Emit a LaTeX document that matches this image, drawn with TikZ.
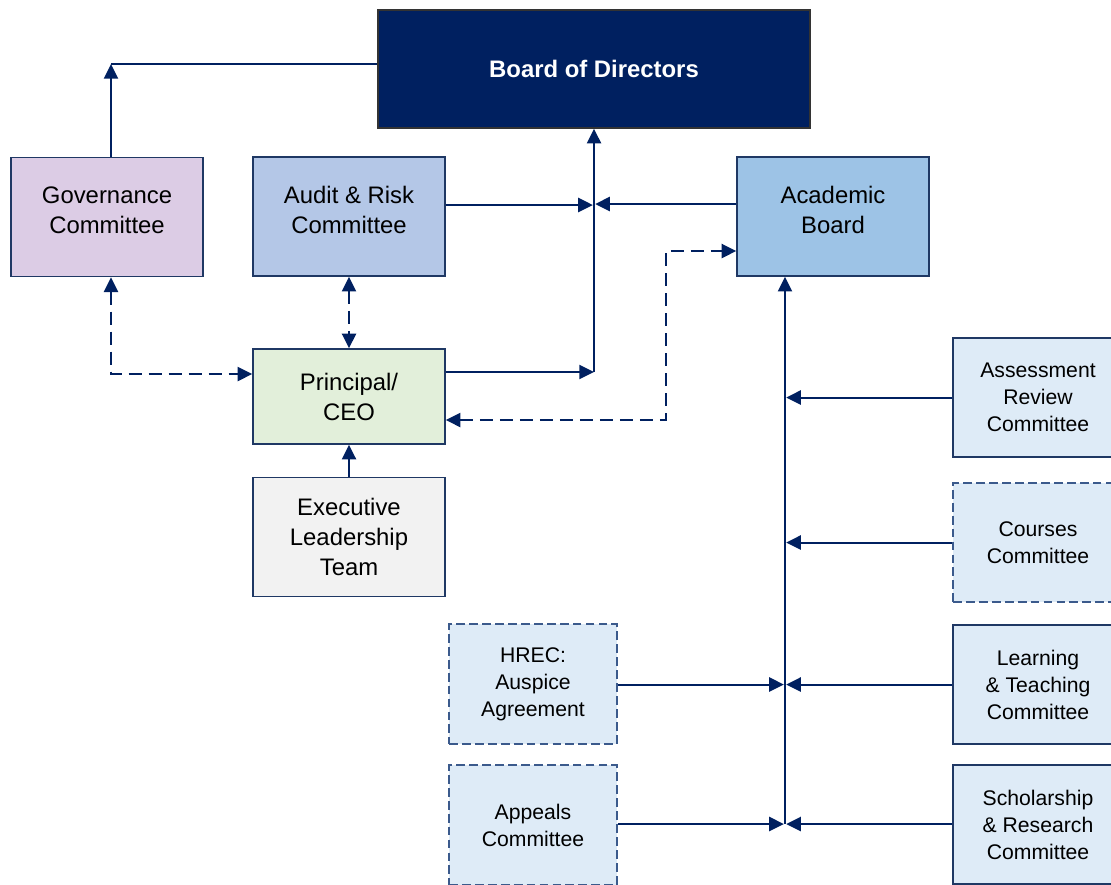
\documentclass[tikz,border=0pt]{standalone}
\usepackage{fontspec}
\setmainfont{Liberation Sans}
\usetikzlibrary{arrows.meta,calc}
\definecolor{navy}{HTML}{002060}
\definecolor{boxline}{HTML}{1F3864}
\definecolor{dashline}{HTML}{3B5A8C}
\definecolor{govfill}{HTML}{DCCCE5}
\definecolor{audfill}{HTML}{B4C7E7}
\definecolor{acafill}{HTML}{9DC3E6}
\definecolor{prifill}{HTML}{E2EFDA}
\definecolor{exefill}{HTML}{F2F2F2}
\definecolor{subfill}{HTML}{DEEBF7}
\newcommand\liftup{\\[-13.6pt]\mbox{}}
\tikzset{
  bigbox/.style={draw=boxline, line width=1.2pt, align=center, inner sep=0pt,
    font=\fontsize{20.3pt}{25.5pt}\selectfont, minimum width=163.2pt, minimum height=101.5pt},
  subbox/.style={draw=boxline, line width=1.2pt, fill=subfill, align=center, inner sep=0pt,
    font=\fontsize{18pt}{23pt}\selectfont, minimum width=144.5pt, minimum height=101.2pt},
  dsub/.style={subbox, draw=dashline, dash pattern=on 7.5pt off 3.5pt},
  tip/.tip={Triangle[length=12.5pt,width=12pt]},
  arr/.style={draw=navy, line width=1.7pt, -tip},
  darr/.style={draw=navy, line width=1.7pt, dash pattern=on 11pt off 6pt, tip-tip},
  plain/.style={draw=navy, line width=1.7pt}
}
\begin{document}
\begin{tikzpicture}[x=0.85pt,y=-0.85pt]
\useasboundingbox (0,0) rectangle (1111,884);
% boxes
\node[draw=black!80, line width=1.2pt, fill=navy, text=white, inner sep=0pt,
  minimum width=367.2pt, minimum height=100.3pt,
  font=\fontsize{20.3pt}{25.5pt}\selectfont\bfseries] (board) at (594,69) {Board of Directors};
\node[bigbox, fill=govfill] (gov) at (107,217) {Governance\\Committee\liftup};
\node[bigbox, fill=audfill, minimum height=101.2pt] (aud) at (349,216.5) {Audit \& Risk\\Committee\liftup};
\node[bigbox, fill=acafill, minimum height=101.2pt] (aca) at (833,216.5) {Academic\\Board\liftup};
\node[bigbox, fill=prifill, minimum height=80.75pt] (pri) at (349,396.5) {Principal/\\CEO};
\node[bigbox, fill=exefill] (exe) at (349,537) {Executive\\Leadership\\Team};
\node[subbox] (ass) at (1038,397.5) {Assessment\\Review\\Committee};
\node[dsub] (cou) at (1038,542.5) {Courses\\Committee};
\node[subbox] (lea) at (1038,684.5) {Learning\\\& Teaching\\Committee};
\node[subbox] (sch) at (1038,824.5) {Scholarship\\\& Research\\Committee};
\node[dsub, minimum width=142.8pt, minimum height=102pt] (hre) at (533,684) {HREC:\\Auspice\\Agreement};
\node[dsub, minimum width=142.8pt, minimum height=102pt] (app) at (533,825) {Appeals\\Committee};
% junction coordinates
\coordinate (govtop) at (111,64);
\coordinate (j1) at (594,372);
\coordinate (j2) at (785,824);
% governance to board
\draw[arr] ($(gov.north)+(4,0)$) -- (govtop);
\draw[plain] (board.west |- govtop) -- (govtop);
% to board
\draw[arr] (j1) -- (board.south -| j1);
\draw[arr, shorten >=1pt] (aud.east |- 0,205) -- (j1 |- 0,205);
\draw[arr, shorten >=1pt] (aca.west |- 0,204) -- (j1 |- 0,204);
\draw[arr] (pri.east |- j1) -- (j1);
% dashed links
\draw[darr] ($(gov.south)+(4,0)$) |- ($(pri.west)+(0,-22.5)$);
\draw[darr] (aud.south) -- (pri.north);
\draw[darr] ($(pri.east)+(0,23.5)$) -- ++(220,0) |- ($(aca.west)+(0,34.5)$);
\draw[arr] (exe.north) -- (pri.south);
% academic board subcommittees
\draw[arr] (j2) -- (aca.south -| j2);
\draw[arr, shorten >=1pt] (ass.west) -- (ass.west -| j2);
\draw[arr, shorten >=1pt] (cou.west) -- (cou.west -| j2);
\draw[arr, shorten >=1pt] (lea.west) -- (lea.west -| j2);
\draw[arr, shorten >=1pt] (sch.west |- j2) -- (j2);
\draw[arr, shorten >=1pt] (hre.east |- lea.west) -- (lea.west -| j2);
\draw[arr, shorten >=1pt] (app.east |- j2) -- (j2);
\end{tikzpicture}
\end{document}
